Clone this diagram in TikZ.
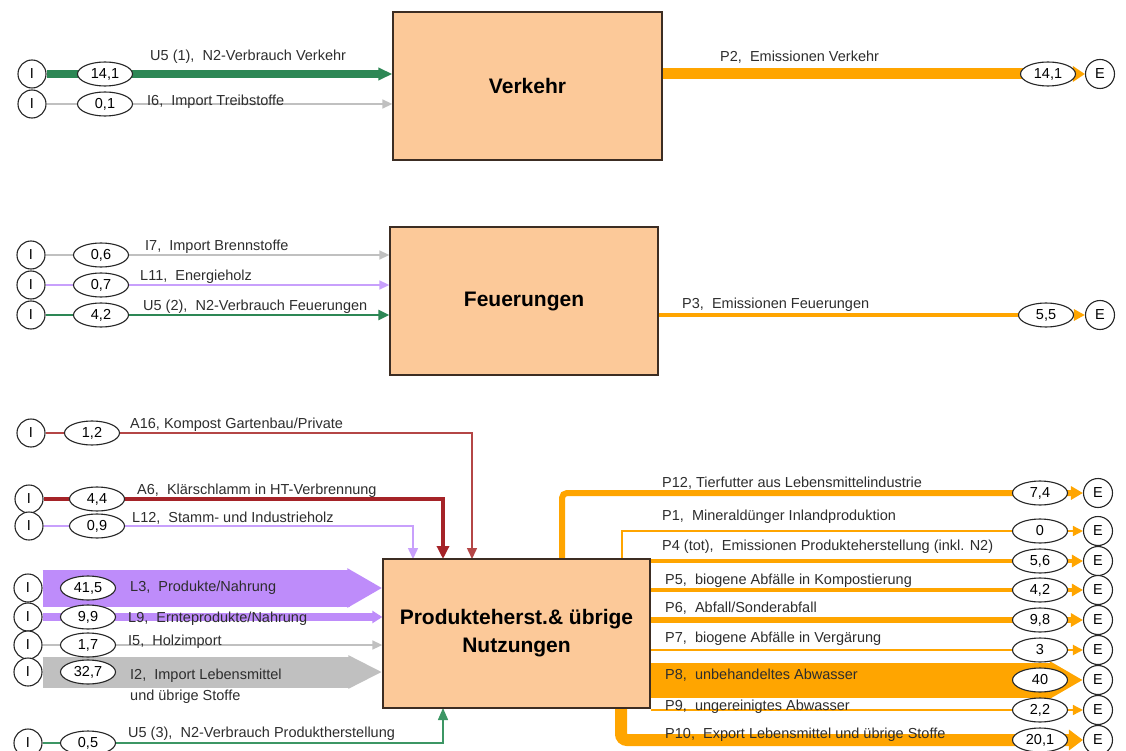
\documentclass[tikz,border=0pt]{standalone}
\usepackage{fontspec}
\setmainfont{Liberation Sans}
\usetikzlibrary{arrows.meta,shapes.geometric,backgrounds}
\definecolor{gr}{RGB}{45,135,85}
\definecolor{grl}{RGB}{60,150,100}
\definecolor{gy}{RGB}{192,192,192}
\definecolor{lil}{RGB}{190,140,250}
\definecolor{lill}{RGB}{200,160,252}
\definecolor{drd}{RGB}{165,35,40}
\definecolor{rdl}{RGB}{180,70,70}
\definecolor{org}{RGB}{255,165,0}
\definecolor{boxfill}{RGB}{252,201,153}
\definecolor{boxline}{RGB}{60,45,35}
\definecolor{txt}{RGB}{45,45,45}
\newcommand\lblfont{\fontsize{14.5}{17}\selectfont}
\newcommand\ttlfont{\fontsize{21}{28}\selectfont\bfseries}
\begin{document}
\begin{tikzpicture}[x=1pt,y=-1pt,
  icirc/.style={circle, draw=black!85, line width=1.1pt, fill=white, minimum size=28pt, inner sep=0pt, font=\lblfont},
  ecirc/.style={circle, draw=black!85, line width=1.1pt, fill=white, minimum size=29pt, inner sep=0pt, font=\lblfont},
  val/.style={ellipse, draw=black!85, line width=1.1pt, fill=white, minimum width=55pt, minimum height=24pt, inner sep=0pt, font=\lblfont},
  proc/.style={rectangle, draw=boxline, line width=1.3pt, fill=boxfill, inner sep=0pt, font=\ttlfont, align=center},
  lab/.style={anchor=base west, inner sep=0pt, font=\lblfont, text=txt},
  fl/.style={line width=#1},
]
\useasboundingbox (0,0) rectangle (1126,751);

% process boxes
\node[proc, minimum width=269pt, minimum height=148pt] (verk) at (527.5,86) {Verkehr};
\node[proc, minimum width=268pt, minimum height=148pt] (feu) at (524,301) {Feuerungen};
\node[proc, minimum width=267pt, minimum height=149pt] (prod) at (516.5,633.5) {Produkteherst.\& übrige\\Nutzungen};

% ---------- Verkehr inputs
\node[icirc] (iu1) at (32,74) {I};
\node[val] (vu1) at (105,74) {14,1};
\node[lab] at (150,61) {U5 (1),\ \ N2-Verbrauch Verkehr};
\node[icirc] (ii6) at (32,104) {I};
\node[val] (vi6) at (105,104) {0,1};
\node[lab] at (147,106) {I6,\ \ Import Treibstoffe};
% Verkehr output
\node[val] (vp2) at (1048,74) {14,1};
\node[ecirc] (ep2) at (1100,74) {E};
\node[lab] at (720,62) {P2,\ \ Emissionen Verkehr};

% ---------- Feuerungen inputs
\node[icirc] (ii7) at (31,255) {I};
\node[val] (vi7) at (101,255) {0,6};
\node[lab] at (145,251) {I7,\ \ Import Brennstoffe};
\node[icirc] (il11) at (31,285) {I};
\node[val] (vl11) at (101,285) {0,7};
\node[lab] at (140,280) {L11,\ \ Energieholz};
\node[icirc] (iu2) at (31,315) {I};
\node[val] (vu2) at (101,315) {4,2};
\node[lab] at (143,310) {U5 (2),\ \ N2-Verbrauch Feuerungen};
% Feuerungen output
\node[val] (vp3) at (1046,315) {5,5};
\node[ecirc] (ep3) at (1100,315) {E};
\node[lab] at (682,308) {P3,\ \ Emissionen Feuerungen};

% ---------- Produkteherstellung inputs
\node[icirc] (ia16) at (31,433) {I};
\node[val] (va16) at (92,433) {1,2};
\node[lab] at (130,428) {A16, Kompost Gartenbau/Private};
\node[icirc] (ia6) at (29,499) {I};
\node[val] (va6) at (97,499) {4,4};
\node[lab] at (137,494) {A6,\ \ Klärschlamm in HT-Verbrennung};
\node[icirc] (il12) at (29,526) {I};
\node[val] (vl12) at (97,526) {0,9};
\node[lab] at (132,522) {L12,\ \ Stamm- und Industrieholz};
\node[icirc] (il3) at (28,588) {I};
\node[val] (vl3) at (88,588) {41,5};
\node[lab] at (130,591) {L3,\ \ Produkte/Nahrung};
\node[icirc] (il9) at (28,617) {I};
\node[val] (vl9) at (88,617) {9,9};
\node[lab] at (128,622) {L9,\ \ Ernteprodukte/Nahrung};
\node[icirc] (ii5) at (28,645) {I};
\node[val] (vi5) at (88,645) {1,7};
\node[lab] at (128,645) {I5,\ \ Holzimport};
\node[icirc] (ii2) at (28,672) {I};
\node[val] (vi2) at (88,672) {32,7};
\node[lab] at (130,679) {I2,\ \ Import Lebensmittel};
\node[lab] at (130,700) {und übrige Stoffe};
\node[icirc] (iu3) at (28,743) {I};
\node[val] (vu3) at (88,743) {0,5};
\node[lab] at (128,737) {U5 (3),\ \ N2-Verbrauch Produktherstellung};

\coordinate (a16b) at (472,559);
\coordinate (a6b) at (443,559);
\coordinate (l12b) at (413,559);
\coordinate (u3b) at (443,708);
\coordinate (p12a) at (562,559);
\coordinate (p1a) at (622,559);
\coordinate (p10a) at (621,708);

% ---------- Produkteherstellung outputs
\node[val] (vp12) at (1040,493) {7,4};
\node[ecirc] (ep12) at (1098,493) {E};
\node[lab] at (662,487) {P12, Tierfutter aus Lebensmittelindustrie};
\node[val] (vp1) at (1040,531) {0};
\node[ecirc] (ep1) at (1098,531) {E};
\node[lab] at (662,520) {P1,\ \ Mineraldünger Inlandproduktion};
\node[val] (vp4) at (1040,561) {5,6};
\node[ecirc] (ep4) at (1098,561) {E};
\node[lab] at (662,550) {P4 (tot),\ \ Emissionen Produkteherstellung (inkl. N2)};
\node[val] (vp5) at (1040,590) {4,2};
\node[ecirc] (ep5) at (1098,590) {E};
\node[lab] at (665,584) {P5,\ \ biogene Abfälle in Kompostierung};
\node[val] (vp6) at (1040,620) {9,8};
\node[ecirc] (ep6) at (1098,620) {E};
\node[lab] at (665,612) {P6,\ \ Abfall/Sonderabfall};
\node[val] (vp7) at (1040,650) {3};
\node[ecirc] (ep7) at (1098,650) {E};
\node[lab] at (665,642) {P7,\ \ biogene Abfälle in Vergärung};
\node[val] (vp8) at (1040,680) {40};
\node[ecirc] (ep8) at (1098,680) {E};
\node[lab] at (665,679) {P8,\ \ unbehandeltes Abwasser};
\node[val] (vp9) at (1040,710) {2,2};
\node[ecirc] (ep9) at (1098,710) {E};
\node[lab] at (665,710) {P9,\ \ ungereinigtes Abwasser};
\node[val] (vp10) at (1040,740) {20,1};
\node[ecirc] (ep10) at (1098,740) {E};
\node[lab] at (665,738) {P10,\ \ Export Lebensmittel und übrige Stoffe};

% ---------- connectors (behind)
\begin{scope}[on background layer]
  % Verkehr
  \draw[gr, fl=8pt, -{Triangle[length=14pt,width=12pt]}] (iu1.east) -- (iu1.east -| verk.west);
  \draw[gy, fl=1.5pt, -{Triangle[length=10pt,width=9pt]}] (ii6.east) -- (ii6.east -| verk.west);
  \draw[org, fl=11pt, -{Triangle[length=12pt,width=15pt]}] (verk.east |- ep2) -- (ep2.west);
  % Feuerungen
  \draw[gy, fl=1.5pt, -{Triangle[length=10pt,width=9pt]}] (ii7.east) -- (ii7.east -| feu.west);
  \draw[lill, fl=1.5pt, -{Triangle[length=10pt,width=9pt]}] (il11.east) -- (il11.east -| feu.west);
  \draw[gr, fl=2.5pt, -{Triangle[length=11pt,width=10pt]}] (iu2.east) -- (iu2.east -| feu.west);
  \draw[org, fl=4pt, -{Triangle[length=11pt,width=11pt]}] (feu.east |- ep3) -- (ep3.west);
  % Produkteherstellung inputs
  \draw[rdl, fl=1.5pt, -{Triangle[length=11pt,width=10pt]}] (ia16.east) -| (a16b);
  \draw[drd, fl=3.5pt, -{Triangle[length=13pt,width=12pt]}] (ia6.east) -| (a6b);
  \draw[lill, fl=1.5pt, -{Triangle[length=11pt,width=10pt]}] (il12.east) -| (l12b);
  \draw[lil, fl=37pt, -{Triangle[length=35pt,width=37pt]}] (il3.east) -- (il3.east -| prod.west);
  \draw[lil, fl=8pt, -{Triangle[length=10pt,width=12pt]}] (il9.east) -- (il9.east -| prod.west);
  \draw[gy, fl=1.5pt, -{Triangle[length=10pt,width=9pt]}] (ii5.east) -- (ii5.east -| prod.west);
  \draw[gy, fl=31pt, -{Triangle[length=34pt,width=31pt]}] (ii2.east) -- (ii2.east -| prod.west);
  \draw[grl, fl=1.5pt, -{Triangle[length=12pt,width=10pt]}] (iu3.east) -| (u3b);
  % Produkteherstellung outputs
  \draw[org, fl=6pt, rounded corners=5pt, -{Triangle[length=12pt,width=13pt]}] (p12a) |- (ep12.west);
  \draw[org, fl=1.5pt, -{Triangle[length=10pt,width=10pt]}] (p1a) |- (ep1.west);
  \draw[org, fl=4pt, -{Triangle[length=11pt,width=12pt]}] (prod.east |- ep4) -- (ep4.west);
  \draw[org, fl=3.5pt, -{Triangle[length=11pt,width=12pt]}] (prod.east |- ep5) -- (ep5.west);
  \draw[org, fl=6.5pt, -{Triangle[length=12pt,width=13pt]}] (prod.east |- ep6) -- (ep6.west);
  \draw[org, fl=2pt, -{Triangle[length=10pt,width=10pt]}] (prod.east |- ep7) -- (ep7.west);
  \draw[org, fl=35pt, -{Triangle[length=33pt,width=35pt]}] (prod.east |- ep8) -- (ep8.west);
  \draw[org, fl=1.5pt, -{Triangle[length=10pt,width=10pt]}] (prod.east |- ep9) -- (ep9.west);
  \draw[org, fl=12pt, rounded corners=6pt, -{Triangle[length=14pt,width=20pt]}] (p10a) |- (ep10.west);
\end{scope}
\end{tikzpicture}
\end{document}
